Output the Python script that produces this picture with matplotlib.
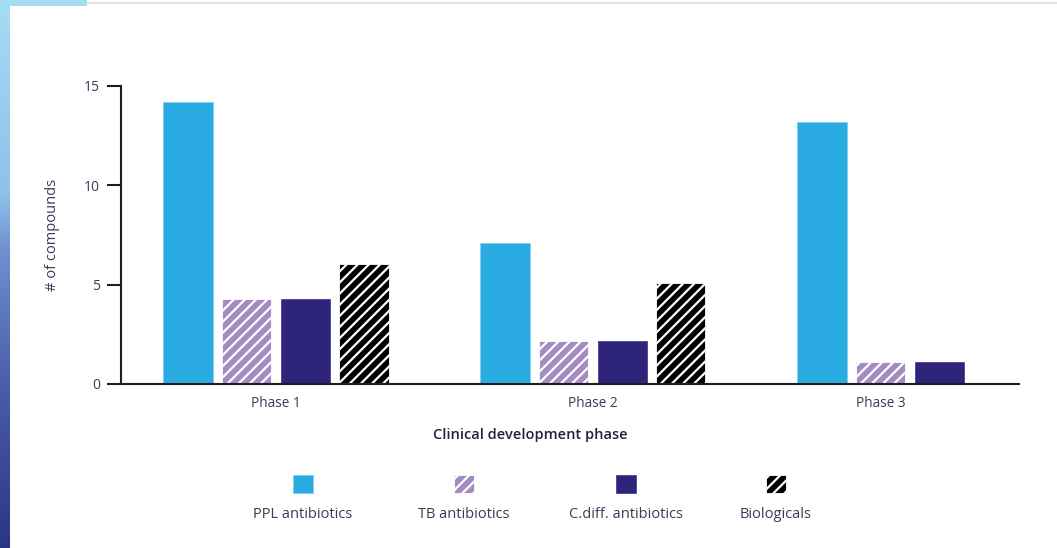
import numpy as np
import matplotlib
matplotlib.use('Agg')
import matplotlib.pyplot as plt
from matplotlib.patches import Rectangle
from matplotlib.colors import LinearSegmentedColormap

# Number of compounds per clinical development phase
phases = ['Phase 1', 'Phase 2', 'Phase 3']
series = ['PPL antibiotics', 'TB antibiotics', 'C.diff. antibiotics', 'Biologicals']
ppl = [14.2, 7.1, 13.15]
tb = [4.25, 2.15, 1.1]
cdiff = [4.25, 2.15, 1.1]
bio = [6.05, 5.1, 0]
yticks = [0, 5, 10, 15]

colors = ['#2aace3', '#a48cc2', '#2e2479', '#000000']
hatches = [None, '///', None, '///']
edges = ['#7fd0f0', 'white', '#4a4290', 'white']

plt.rcParams['font.family'] = ['Open Sans', 'DejaVu Sans']
plt.rcParams['hatch.linewidth'] = 1.6
text_col = '#3c3a56'

fig = plt.figure(figsize=(10.57, 5.48), dpi=100)
ax = fig.add_axes([0.1142, 0.2993, 0.8498, 0.5443])

x = np.arange(len(phases))
step = 0.185
width = 0.155
for i, vals in enumerate([ppl, tb, cdiff, bio]):
    ax.bar(x + (i - 1.5) * step, vals, width, color=colors[i], hatch=hatches[i],
           edgecolor=edges[i], linewidth=0.6, zorder=2)

# Phase 3 has no biologicals, so its label sits under the three drawn bars
tick_pos = [0, 1, 2 - 0.5 * step]
ax.set_xticks(tick_pos)
ax.set_xticklabels(phases)
ax.set_yticks(yticks)
ax.set_xlim(-0.49, 2.344)
ax.set_ylim(0, 15)

for side in ['top', 'right']:
    ax.spines[side].set_visible(False)
for side in ['left', 'bottom']:
    ax.spines[side].set_linewidth(1.5)
    ax.spines[side].set_color('#1e1e1e')
ax.tick_params(axis='y', direction='out', length=10, width=1.5, color='#1e1e1e',
               pad=5, labelsize=10, labelcolor=text_col)
ax.tick_params(axis='x', length=0, pad=9, labelsize=9.8, labelcolor=text_col)

ax.set_ylabel('# of compounds', fontsize=10.5, color=text_col)
ax.yaxis.set_label_coords(-0.0676, 0.5)
ax.set_xlabel('Clinical development phase', fontsize=10.5, fontweight='semibold',
              color='#23223f', va='top')
ax.xaxis.set_label_coords(0.456, -0.148)

# Legend: swatch above, label below
W, H = 1057.0, 548.0
leg_x = [303, 464, 626, 776]
for i, name in enumerate(series):
    sw, sh = 20, 18
    r = Rectangle(((leg_x[i] - sw / 2) / W, 1 - 493 / H), sw / W, sh / H,
                  transform=fig.transFigure, facecolor=colors[i], hatch=hatches[i],
                  edgecolor=edges[i], linewidth=0.6)
    fig.add_artist(r)
    fig.text(leg_x[i] / W, 1 - 514 / H, name, ha='center', va='center',
             fontsize=10.5, color=text_col)

# Decorative blue strip on the left edge and top-left corner
bg = fig.add_axes([0, 0, 10 / W, 1 - 6 / H])
grad_cmap = LinearSegmentedColormap.from_list(
    'strip', [(0, '#a4dbf5'), (0.35, '#8fc0ea'), (0.45, '#6f8fcf'),
              (0.7, '#4a5ea8'), (1, '#2c3584')])
grad = np.linspace(0, 1, 256).reshape(-1, 1)
bg.imshow(grad, aspect='auto', cmap=grad_cmap, extent=[0, 1, 1, 0])
bg.set_axis_off()
fig.add_artist(Rectangle((0, 1 - 6 / H), 87 / W, 6 / H, transform=fig.transFigure,
                         facecolor='#a4dbf5', edgecolor='none'))
fig.add_artist(plt.Line2D([87 / W, 1], [1 - 3 / H, 1 - 3 / H], transform=fig.transFigure,
                          color='#dcdcdc', linewidth=1.2))

fig.savefig('out.png', dpi=100)
